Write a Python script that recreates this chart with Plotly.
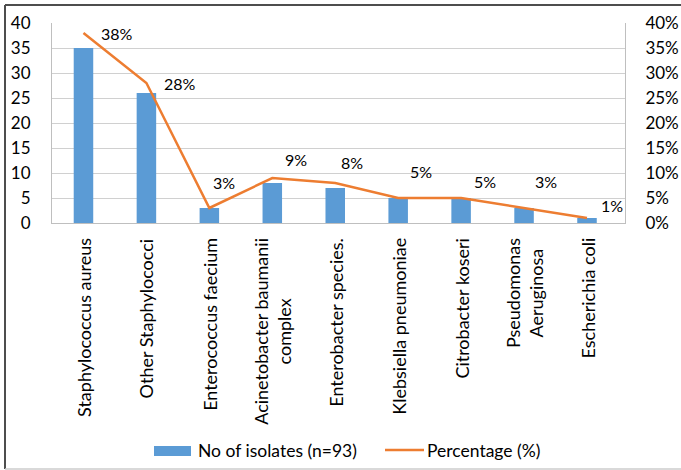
import plotly.graph_objects as go

categories = ["Staphylococcus aureus", "Other Staphylococci", "Enterococcus faecium",
              "Acinetobacter baumanii<br>complex", "Enterobacter species.",
              "Klebsiella pneumoniae", "Citrobacter koseri", "Pseudomonas<br>Aeruginosa",
              "Escherichia coli"]
isolates = [35, 26, 3, 8, 7, 5, 5, 3, 1]
percentages = [38, 28, 3, 9, 8, 5, 5, 3, 1]
series_names = ["No of isolates (n=93)", "Percentage (%)"]

# label offsets (pixels) for the percentage labels
label_dx = [16, 16, 2, 11, 4, 10, 11, 9, 12]
label_dy = [0, 0, 26, 19, 21, 27, 17, 27, 13]

FONT = "Lato"
BLUE, ORANGE = "#5B9BD5", "#ED7D31"
W, H = 681, 470
ml, mr, mt, mb = 52, 56, 23, 247
pw, ph = W - ml - mr, H - mt - mb


def px_x(v):
    return (v - ml) / pw


def px_y(v):
    return (H - mb - v) / ph


fig = go.Figure()
fig.add_trace(go.Bar(x=categories, y=isolates, name=series_names[0],
                     marker=dict(color=BLUE, line=dict(width=0))))
fig.add_trace(go.Scatter(x=categories, y=[p / 100 for p in percentages], yaxis="y2",
                         mode="lines", name=series_names[1],
                         line=dict(color=ORANGE, width=2.5)))

for c, p, dx, dy in zip(categories, percentages, label_dx, label_dy):
    fig.add_annotation(x=c, y=p / 100, yref="y2", text=f"{p}%", showarrow=False,
                       xanchor="left", yanchor="middle", xshift=dx, yshift=dy,
                       font=dict(family=FONT, size=16, color="#000000"))

# category labels (rotated, multi-line centred)
for c in categories:
    fig.add_annotation(x=c, xref="x", y=0, yref="paper", text=c, showarrow=False,
                       textangle=-90, align="center", xanchor="center", yanchor="top",
                       yshift=-13, font=dict(family=FONT, size=18, color="#000000"))

# outer frame (top & left dark, bottom light)
frame = dict(xref="paper", yref="paper", type="line")
fig.add_shape(**frame, x0=px_x(5), x1=px_x(681), y0=px_y(5), y1=px_y(5),
              line=dict(color="#4D4D4D", width=2))
fig.add_shape(**frame, x0=px_x(5), x1=px_x(5), y0=px_y(5), y1=px_y(469),
              line=dict(color="#4D4D4D", width=2))
fig.add_shape(**frame, x0=px_x(5), x1=px_x(681), y0=px_y(469), y1=px_y(469),
              line=dict(color="#CCCCCC", width=1.5))

# custom legend
fig.add_shape(type="rect", xref="paper", yref="paper",
              x0=px_x(154), x1=px_x(191), y0=px_y(456), y1=px_y(446),
              fillcolor=BLUE, line=dict(width=0))
fig.add_annotation(xref="paper", yref="paper", x=px_x(196), y=px_y(451), text=series_names[0],
                   showarrow=False, xanchor="left", yanchor="middle",
                   font=dict(family=FONT, size=17.5, color="#000000"))
fig.add_shape(type="line", xref="paper", yref="paper",
              x0=px_x(385), x1=px_x(424), y0=px_y(450), y1=px_y(450),
              line=dict(color=ORANGE, width=2.5))
fig.add_annotation(xref="paper", yref="paper", x=px_x(425), y=px_y(451), text=series_names[1],
                   showarrow=False, xanchor="left", yanchor="middle",
                   font=dict(family=FONT, size=17.5, color="#000000"))

fig.update_layout(
    width=W, height=H,
    margin=dict(l=ml, r=mr, t=mt, b=mb, autoexpand=False),
    paper_bgcolor="white", plot_bgcolor="white",
    font=dict(family=FONT, size=16, color="#000000"),
    bargap=0.69,
    showlegend=False,
    xaxis=dict(showticklabels=False, showgrid=False, showline=True, linecolor="#BFBFBF",
               linewidth=1, ticks="", automargin=False),
    yaxis=dict(range=[0, 40], dtick=5, showgrid=True, gridcolor="#D0D0D0", gridwidth=1,
               showline=True, linecolor="#BFBFBF", zeroline=False, ticks="", automargin=False,
               ticklabelstandoff=17, tickfont=dict(family=FONT, size=17)),
    yaxis2=dict(range=[0, 0.4], dtick=0.05, tickformat=".0%", overlaying="y", side="right",
                showgrid=False, showline=True, linecolor="#BFBFBF", zeroline=False, ticks="",
                automargin=False, ticklabelstandoff=16, tickfont=dict(family=FONT, size=17)),
)

fig.write_html("out.html")
